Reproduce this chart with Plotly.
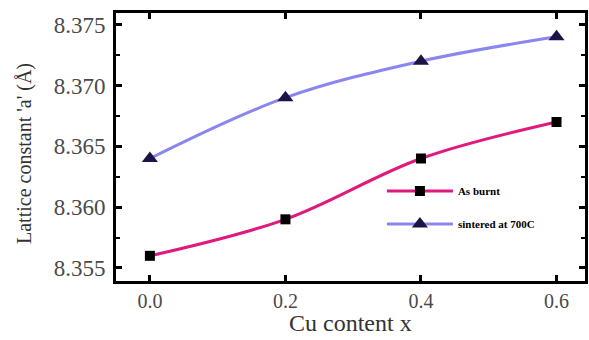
import plotly.graph_objects as go

cu_content = [0.0, 0.2, 0.4, 0.6]
as_burnt = [8.356, 8.359, 8.364, 8.367]
sintered_700 = [8.364, 8.369, 8.372, 8.374]
x_ticks = [0.0, 0.2, 0.4, 0.6]
x_tick_labels = ["0.0", "0.2", "0.4", "0.6"]
y_ticks = [8.355, 8.360, 8.365, 8.370, 8.375]
y_tick_labels = ["8.355", "8.360", "8.365", "8.370", "8.375"]
x_title = "Cu content x"
y_title = "Lattice constant 'a' (Å)"

fig = go.Figure()
fig.add_trace(go.Scatter(
    x=cu_content, y=as_burnt, name="As burnt", mode="lines+markers",
    legendgroup="a",
    line=dict(color="#e0197d", width=3, shape="spline", smoothing=1.0),
    marker=dict(symbol="square", size=10, color="black"),
))
fig.add_trace(go.Scatter(
    x=cu_content, y=sintered_700, name="sintered at 700C", mode="lines+markers",
    legendgroup="b",
    line=dict(color="#8a86f0", width=3, shape="spline", smoothing=1.0),
    marker=dict(symbol="triangle-up", size=14, color="#1c1445"),
))

serif = "Liberation Serif"
fig.update_layout(
    width=589, height=340,
    margin=dict(l=116, r=4, t=13, b=59),
    paper_bgcolor="white", plot_bgcolor="white",
    font=dict(family=serif, color="#333333", size=20),
    showlegend=True,
    legend=dict(
        x=0.567, y=0.39, xanchor="left", yanchor="top",
        bgcolor="rgba(0,0,0,0)",
        font=dict(family=serif, size=11, color="black", weight="bold"),
        tracegroupgap=14, itemwidth=66,
    ),
    xaxis=dict(
        range=[-0.05, 0.642], automargin=False,
        tickvals=x_ticks, ticktext=x_tick_labels,
        ticks="inside", ticklen=6, tickwidth=3, tickcolor="black",
        showline=True, linewidth=3, linecolor="black", mirror="ticks",
        showgrid=False, zeroline=False,
        tickfont=dict(size=20, family=serif, color="#4a4a4a"),
    ),
    yaxis=dict(
        range=[8.35393, 8.37596], automargin=False,
        tickvals=y_ticks, ticktext=y_tick_labels,
        ticks="inside", ticklen=6, tickwidth=3, tickcolor="black",
        ticklabelstandoff=3,
        minor=dict(ticks="inside", ticklen=4, tickwidth=2, tickcolor="black", dtick=0.0025, showgrid=False),
        showline=True, linewidth=3, linecolor="black", mirror="ticks",
        showgrid=False, zeroline=False,
        tickfont=dict(size=23, family=serif, color="#4a4a4a"),
    ),
    annotations=[
        dict(text=x_title, xref="paper", yref="paper", x=0.5, y=-0.2127,
             xanchor="center", yanchor="bottom", showarrow=False,
             font=dict(size=24, family=serif, color="#333333")),
        dict(text=y_title, xref="paper", yref="paper", x=-0.194, y=0.474,
             xanchor="center", yanchor="middle", showarrow=False, textangle=-90,
             font=dict(size=20, family=serif, color="#333333")),
    ],
)

fig.write_html("out.html")
